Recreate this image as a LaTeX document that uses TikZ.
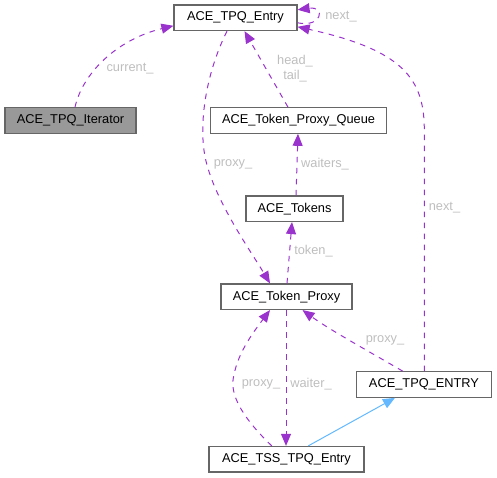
\documentclass[tikz,border=0pt]{standalone}
\usepackage{fontspec}
\setmainfont{Liberation Sans}
\usetikzlibrary{arrows.meta}
\definecolor{edgepurple}{HTML}{9A32CD}
\definecolor{inhblue}{HTML}{63B8FF}
\definecolor{boxborder}{HTML}{666666}
\definecolor{labelgrey}{HTML}{BEBEBE}
\definecolor{iterfill}{HTML}{999999}
\tikzset{
  cls/.style={draw=boxborder, line width=1.2pt, fill=white, inner sep=0pt,
    minimum height=25.5pt, font=\fontsize{12.8}{15}\selectfont, text=black},
  rel/.style={draw=edgepurple, line width=1pt, dash pattern=on 5.5pt off 5.5pt,
    -{Triangle[length=12pt,width=10pt,fill=edgepurple]}},
  inh/.style={draw=inhblue, line width=1pt,
    -{Triangle[length=12pt,width=10pt,fill=inhblue]}},
  lbl/.style={text=labelgrey, font=\fontsize{12.8}{15}\selectfont, inner sep=0pt, align=center}
}
\begin{document}
\begin{tikzpicture}[x=1pt,y=-1pt]
\useasboundingbox (0,0) rectangle (497,477);
% nodes
\node[cls, minimum width=123pt] (entry) at (235.5,17.8) {ACE\_TPQ\_Entry};
\node[cls, minimum width=131pt, fill=iterfill] (iter) at (70.5,120.5) {ACE\_TPQ\_Iterator};
\node[cls, minimum width=176pt] (queue) at (298.5,120.5) {ACE\_Token\_Proxy\_Queue};
\node[cls, minimum width=97pt] (tokens) at (294.5,208.7) {ACE\_Tokens};
\node[cls, minimum width=131pt] (proxy) at (286.5,296.7) {ACE\_Token\_Proxy};
\node[cls, minimum width=135pt] (tpqE) at (424,384.5) {ACE\_TPQ\_ENTRY};
\node[cls, minimum width=155pt] (tss) at (286.5,459.2) {ACE\_TSS\_TPQ\_Entry};
% current_
\draw[rel] ([xshift=4.5pt]iter.north) .. controls (82,75) and (115,40) .. ([yshift=-8pt]entry.east -| entry.west);
\node[lbl] (lcur) at (130,69) {current\_};
% self loop next_
\draw[rel] ([yshift=-5pt]entry.east) .. controls (322,28) and (326,6) .. ([yshift=8pt]entry.east);
\node[lbl] (lnext1) at (341,16.7) {next\_};
% head_/tail_
\draw[rel] ([xshift=-10.5pt]queue.north) -- ([xshift=9pt]entry.south);
\node[lbl] (lht) at (295,68.5) {head\_\\tail\_};
% proxy_ entry -> proxy
\draw[rel] ([xshift=-8.5pt]entry.south) .. controls (205,75) and (197,130) .. (207,165) .. controls (218,205) and (250,250) .. ([xshift=-16.5pt]proxy.north);
\node[lbl] (lpx1) at (233,164) {proxy\_};
% waiters_
\draw[rel] ([xshift=1.5pt]tokens.north) -- ([xshift=-0.5pt]queue.south);
\node[lbl] (lwts) at (325,164) {waiters\_};
% token_
\draw[rel] ([xshift=0.5pt]proxy.north) -- ([xshift=-2.5pt]tokens.south);
\node[lbl] (ltok) at (313.5,251.5) {token\_};
% next_ tpqE -> entry
\draw[rel] ([xshift=0.3pt]tpqE.north) -- (424.3,130) .. controls (424.3,78) and (402,50) .. ([yshift=-9pt]entry.east);
\node[lbl] (lnext2) at (444.5,207.7) {next\_};
% proxy_ tpqE -> proxy
\draw[rel] ([xshift=-21.3pt]tpqE.north) .. controls (370,352) and (330,330) .. ([xshift=16pt]proxy.south);
\node[lbl] (lpx2) at (385,340.5) {proxy\_};
% waiter_
\draw[rel] ([xshift=-0.5pt]proxy.south) -- ([xshift=-0.5pt]tss.north);
\node[lbl] (lwtr) at (311,384) {waiter\_};
% proxy_ tss -> proxy
\draw[rel] ([xshift=-14.8pt]tss.north) .. controls (245,420) and (228,395) .. (234,375) .. controls (238,352) and (255,330) .. ([xshift=-16.5pt]proxy.south);
\node[lbl] (lpx3) at (261,384) {proxy\_};
% inheritance
\draw[inh] ([xshift=21.8pt]tss.north) -- ([xshift=-29pt]tpqE.south);
\end{tikzpicture}
\end{document}
